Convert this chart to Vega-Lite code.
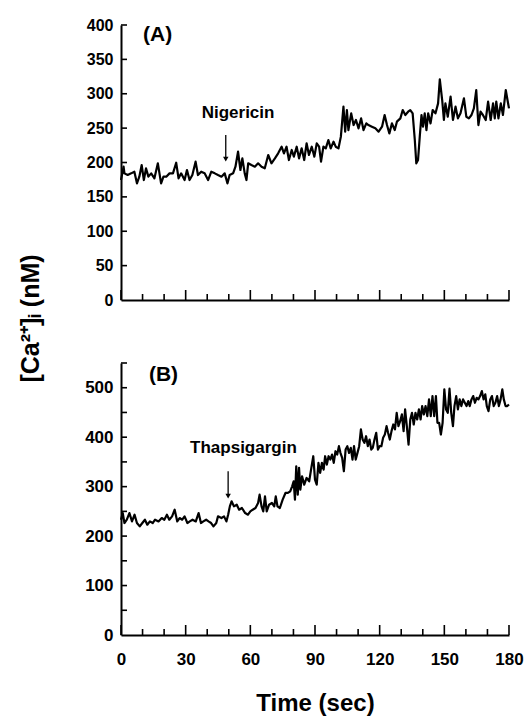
{
  "$schema": "https://vega.github.io/schema/vega-lite/v6.json",
  "padding": {"left": 18, "top": 17, "right": 10, "bottom": 5},
  "background": "white",
  "config": {
    "view": {"stroke": null},
    "font": "Liberation Sans",
    "axis": {
      "domainColor": "black", "domainWidth": 2, "ticks": false, "labelOverlap": false, "labelFlush": false,
      "grid": false, "labelFont": "Liberation Sans", "labelFontWeight": "bold", "labelColor": "black",
      "labelFontSize": 16, "titleFont": "Liberation Sans", "titleFontWeight": "bold", "titleColor": "black"
    },
    "tick": {"color": "black", "thickness": 1.6, "opacity": 1}
  },
  "datasets": {
    "A": [
      {"t":0,"v":174.5},{"t":1.2,"v":193.9},{"t":1.6,"v":184.2},{"t":3.1,"v":181.8},{"t":4.7,"v":184.2},{"t":6.2,"v":186.6},{"t":7.4,"v":169.7},{"t":8.5,"v":179.4},{"t":9.6,"v":196.3},{"t":10.6,"v":174.5},{"t":11.6,"v":191.5},{"t":12.7,"v":179.4},{"t":14.0,"v":184.2},{"t":15.5,"v":177.0},{"t":17.1,"v":198.8},{"t":18.6,"v":169.7},{"t":19.7,"v":179.4},{"t":21.0,"v":179.4},{"t":22.5,"v":184.2},{"t":24.1,"v":184.2},{"t":25.6,"v":199.7},{"t":26.7,"v":177.0},{"t":27.9,"v":184.2},{"t":29.5,"v":174.5},{"t":30.6,"v":189.1},{"t":31.8,"v":174.5},{"t":33.1,"v":181.8},{"t":34.6,"v":201.2},{"t":35.7,"v":181.8},{"t":37.2,"v":186.6},{"t":38.8,"v":184.2},{"t":40.4,"v":174.5},{"t":41.9,"v":186.6},{"t":43.5,"v":184.2},{"t":45.0,"v":181.8},{"t":46.6,"v":179.4},{"t":48.1,"v":184.2},{"t":49.4,"v":169.7},{"t":50.4,"v":181.8},{"t":52.0,"v":184.2},{"t":53.1,"v":193.9},{"t":54.3,"v":215.7},{"t":55.4,"v":189.1},{"t":56.3,"v":206.0},{"t":57.4,"v":184.2},{"t":58.2,"v":174.5},{"t":59.0,"v":198.8},{"t":60.5,"v":196.3},{"t":62.1,"v":193.9},{"t":63.6,"v":198.8},{"t":65.2,"v":193.9},{"t":66.7,"v":191.5},{"t":68.3,"v":210.9},{"t":69.8,"v":198.8},{"t":71.4,"v":206.0},{"t":72.9,"v":213.3},{"t":74.5,"v":223.0},{"t":75.6,"v":213.3},{"t":76.8,"v":223.0},{"t":77.9,"v":203.6},{"t":79.2,"v":218.2},{"t":80.2,"v":208.5},{"t":81.5,"v":223.0},{"t":82.6,"v":206.0},{"t":83.8,"v":220.6},{"t":85.0,"v":203.6},{"t":86.1,"v":227.9},{"t":87.2,"v":210.9},{"t":88.5,"v":223.0},{"t":89.7,"v":208.5},{"t":90.8,"v":227.9},{"t":91.9,"v":223.0},{"t":92.8,"v":201.2},{"t":93.9,"v":223.0},{"t":95.0,"v":220.6},{"t":96.2,"v":232.7},{"t":97.3,"v":220.6},{"t":98.6,"v":230.3},{"t":99.6,"v":223.0},{"t":100.9,"v":220.6},{"t":102.0,"v":237.6},{"t":103.2,"v":281.2},{"t":104.0,"v":244.8},{"t":104.8,"v":276.3},{"t":105.5,"v":247.2},{"t":106.8,"v":271.5},{"t":107.9,"v":254.5},{"t":109.0,"v":261.8},{"t":110.2,"v":249.7},{"t":111.4,"v":264.2},{"t":112.5,"v":247.2},{"t":113.8,"v":256.9},{"t":114.8,"v":254.5},{"t":116.4,"v":252.1},{"t":118.0,"v":249.7},{"t":119.5,"v":244.8},{"t":121.1,"v":252.1},{"t":122.3,"v":269.1},{"t":123.4,"v":254.5},{"t":124.5,"v":242.4},{"t":125.7,"v":256.9},{"t":127.0,"v":247.2},{"t":128.0,"v":259.4},{"t":129.6,"v":264.2},{"t":130.7,"v":276.3},{"t":131.9,"v":269.1},{"t":133.2,"v":273.9},{"t":134.2,"v":276.3},{"t":135.3,"v":271.5},{"t":136.3,"v":232.7},{"t":137.0,"v":198.8},{"t":137.8,"v":203.6},{"t":138.6,"v":237.6},{"t":139.4,"v":269.1},{"t":140.1,"v":252.1},{"t":140.9,"v":271.5},{"t":141.7,"v":247.2},{"t":142.5,"v":271.5},{"t":143.6,"v":256.9},{"t":144.6,"v":276.3},{"t":145.9,"v":271.5},{"t":147.1,"v":286.0},{"t":147.9,"v":320.9},{"t":149.0,"v":290.9},{"t":149.8,"v":261.8},{"t":150.5,"v":286.0},{"t":151.6,"v":266.6},{"t":152.9,"v":295.7},{"t":154.0,"v":261.8},{"t":155.2,"v":281.2},{"t":156.3,"v":264.2},{"t":157.5,"v":271.5},{"t":159.1,"v":293.3},{"t":160.2,"v":266.6},{"t":161.4,"v":264.2},{"t":162.6,"v":269.1},{"t":163.7,"v":278.8},{"t":164.8,"v":305.4},{"t":165.8,"v":254.5},{"t":166.8,"v":273.9},{"t":167.9,"v":269.1},{"t":169.2,"v":261.8},{"t":170.3,"v":288.5},{"t":171.5,"v":261.8},{"t":172.6,"v":286.0},{"t":173.4,"v":264.2},{"t":174.1,"v":288.5},{"t":175.1,"v":264.2},{"t":176.2,"v":286.0},{"t":177.2,"v":269.1},{"t":178.5,"v":305.4},{"t":179.3,"v":290.9},{"t":180.0,"v":278.8}
    ],
    "B": [
      {"t":0,"v":233.1},{"t":0.8,"v":246.6},{"t":1.6,"v":226.4},{"t":2.7,"v":233.1},{"t":3.9,"v":246.6},{"t":5.1,"v":229.7},{"t":6.3,"v":243.3},{"t":7.4,"v":226.4},{"t":8.7,"v":219.6},{"t":9.9,"v":226.4},{"t":11.1,"v":233.1},{"t":12.2,"v":223.0},{"t":13.4,"v":229.7},{"t":14.7,"v":226.4},{"t":15.8,"v":233.1},{"t":17.4,"v":229.7},{"t":18.9,"v":236.5},{"t":20.1,"v":233.1},{"t":21.3,"v":243.3},{"t":22.4,"v":233.1},{"t":23.7,"v":239.9},{"t":24.9,"v":253.4},{"t":26.1,"v":229.7},{"t":27.2,"v":236.5},{"t":28.4,"v":233.1},{"t":29.5,"v":239.9},{"t":30.8,"v":226.4},{"t":31.9,"v":229.7},{"t":33.2,"v":233.1},{"t":34.7,"v":229.7},{"t":36.0,"v":246.6},{"t":37.1,"v":226.4},{"t":38.2,"v":229.7},{"t":39.5,"v":233.1},{"t":40.6,"v":229.7},{"t":41.8,"v":226.4},{"t":42.9,"v":219.6},{"t":44.2,"v":226.4},{"t":45.0,"v":239.9},{"t":46.6,"v":236.5},{"t":47.8,"v":239.9},{"t":48.9,"v":229.7},{"t":49.7,"v":243.3},{"t":50.5,"v":260.1},{"t":51.3,"v":270.3},{"t":52.4,"v":260.1},{"t":53.7,"v":263.5},{"t":54.8,"v":253.4},{"t":56.1,"v":256.8},{"t":57.6,"v":246.6},{"t":58.9,"v":243.3},{"t":60.0,"v":250.0},{"t":61.1,"v":253.4},{"t":62.4,"v":256.8},{"t":63.6,"v":266.9},{"t":64.3,"v":283.8},{"t":65.2,"v":260.1},{"t":66.0,"v":250.0},{"t":66.8,"v":280.4},{"t":67.6,"v":250.0},{"t":68.7,"v":263.5},{"t":70.0,"v":266.9},{"t":71.1,"v":260.1},{"t":71.8,"v":280.4},{"t":72.6,"v":260.1},{"t":73.7,"v":256.8},{"t":75.0,"v":273.7},{"t":76.3,"v":287.2},{"t":77.4,"v":287.2},{"t":78.5,"v":290.6},{"t":79.4,"v":300.7},{"t":80.1,"v":310.8},{"t":80.7,"v":273.7},{"t":81.3,"v":341.2},{"t":82.0,"v":283.8},{"t":82.6,"v":337.9},{"t":83.2,"v":293.9},{"t":84.0,"v":321.0},{"t":85.0,"v":304.1},{"t":86.1,"v":317.6},{"t":87.3,"v":310.8},{"t":88.3,"v":337.9},{"t":89.2,"v":361.5},{"t":90.0,"v":314.2},{"t":90.8,"v":304.1},{"t":91.6,"v":348.0},{"t":92.4,"v":327.7},{"t":93.2,"v":348.0},{"t":94.0,"v":334.5},{"t":94.7,"v":361.5},{"t":95.5,"v":344.6},{"t":96.3,"v":361.5},{"t":97.1,"v":354.7},{"t":97.9,"v":364.9},{"t":98.7,"v":348.0},{"t":99.5,"v":371.6},{"t":100.3,"v":364.9},{"t":101.1,"v":381.8},{"t":101.8,"v":368.3},{"t":102.6,"v":358.1},{"t":103.4,"v":331.1},{"t":104.2,"v":375.0},{"t":105.0,"v":381.8},{"t":105.8,"v":368.3},{"t":106.6,"v":378.4},{"t":107.4,"v":354.7},{"t":108.1,"v":381.8},{"t":108.9,"v":354.7},{"t":109.7,"v":368.3},{"t":110.5,"v":381.8},{"t":111.3,"v":415.6},{"t":112.1,"v":395.3},{"t":112.9,"v":388.5},{"t":113.7,"v":402.0},{"t":114.5,"v":381.8},{"t":115.3,"v":395.3},{"t":116.1,"v":375.0},{"t":116.8,"v":378.4},{"t":117.6,"v":395.3},{"t":118.4,"v":408.8},{"t":119.2,"v":375.0},{"t":120.0,"v":381.8},{"t":120.8,"v":381.8},{"t":121.6,"v":398.7},{"t":122.4,"v":405.4},{"t":123.2,"v":422.3},{"t":123.9,"v":408.8},{"t":124.7,"v":395.3},{"t":125.5,"v":412.2},{"t":126.3,"v":425.7},{"t":127.1,"v":415.6},{"t":127.9,"v":449.3},{"t":128.7,"v":422.3},{"t":129.5,"v":432.4},{"t":130.3,"v":446.0},{"t":131.1,"v":412.2},{"t":131.8,"v":456.1},{"t":132.6,"v":422.3},{"t":133.4,"v":385.1},{"t":134.2,"v":435.8},{"t":135.0,"v":449.3},{"t":135.8,"v":425.7},{"t":136.6,"v":449.3},{"t":137.4,"v":435.8},{"t":138.2,"v":456.1},{"t":139.0,"v":435.8},{"t":139.7,"v":462.9},{"t":140.5,"v":446.0},{"t":141.3,"v":462.9},{"t":142.1,"v":442.6},{"t":142.9,"v":476.4},{"t":143.7,"v":442.6},{"t":144.5,"v":483.1},{"t":145.3,"v":442.6},{"t":146.1,"v":483.1},{"t":146.8,"v":429.1},{"t":147.6,"v":429.1},{"t":148.4,"v":405.4},{"t":149.2,"v":429.1},{"t":150.0,"v":496.6},{"t":150.8,"v":456.1},{"t":151.6,"v":449.3},{"t":152.4,"v":498.0},{"t":153.2,"v":449.3},{"t":154.0,"v":422.3},{"t":154.7,"v":462.9},{"t":155.5,"v":483.1},{"t":156.3,"v":456.1},{"t":157.1,"v":476.4},{"t":157.9,"v":462.9},{"t":158.7,"v":476.4},{"t":159.5,"v":469.6},{"t":160.3,"v":462.9},{"t":161.1,"v":473.0},{"t":161.8,"v":462.9},{"t":162.6,"v":476.4},{"t":163.4,"v":483.1},{"t":164.2,"v":469.6},{"t":165.0,"v":479.7},{"t":165.8,"v":476.4},{"t":166.6,"v":483.1},{"t":167.4,"v":493.3},{"t":168.2,"v":476.4},{"t":169.0,"v":486.5},{"t":169.7,"v":462.9},{"t":170.5,"v":452.7},{"t":171.3,"v":476.4},{"t":172.1,"v":483.1},{"t":172.9,"v":462.9},{"t":173.7,"v":469.6},{"t":174.5,"v":483.1},{"t":175.3,"v":462.9},{"t":176.1,"v":476.4},{"t":176.9,"v":496.6},{"t":177.6,"v":476.4},{"t":178.4,"v":462.9},{"t":179.2,"v":462.9},{"t":180.0,"v":466.2}
    ],
    "xmajor": [{"t":0,"v":0},{"t":30,"v":0},{"t":60,"v":0},{"t":90,"v":0},{"t":120,"v":0},{"t":150,"v":0},{"t":180,"v":0}],
    "xminor": [{"t":10,"v":0},{"t":20,"v":0},{"t":40,"v":0},{"t":50,"v":0},{"t":70,"v":0},{"t":80,"v":0},{"t":100,"v":0},{"t":110,"v":0},{"t":130,"v":0},{"t":140,"v":0},{"t":160,"v":0},{"t":170,"v":0}],
    "yA": [{"t":0,"v":50},{"t":0,"v":100},{"t":0,"v":150},{"t":0,"v":200},{"t":0,"v":250},{"t":0,"v":300},{"t":0,"v":350},{"t":0,"v":400}],
    "yB": [{"t":0,"v":50},{"t":0,"v":100},{"t":0,"v":150},{"t":0,"v":200},{"t":0,"v":250},{"t":0,"v":300},{"t":0,"v":350},{"t":0,"v":400},{"t":0,"v":450},{"t":0,"v":500},{"t":0,"v":550}]
  },
  "spacing": 63,
  "bounds": "flush",
  "vconcat": [
    {
      "width": 388, "height": 275,
      "encoding": {
        "x": {"field": "t", "type": "quantitative", "scale": {"domain": [0, 180], "nice": false},
              "axis": {"title": null, "labels": false, "ticks": false, "labelOverlap": false, "values": [0, 180]}},
        "y": {"field": "v", "type": "quantitative", "scale": {"domain": [0, 400], "nice": false},
              "axis": {"values": [0,50,100,150,200,250,300,350,400], "ticks": false, "labelOverlap": false, "labelPadding": 8,
                       "title": "[Ca²⁺]ᵢ (nM)", "titleFontSize": 25, "titleX": -78, "titleY": 293}}
      },
      "layer": [
        {"data": {"name": "A"}, "mark": {"type": "line", "color": "black", "strokeWidth": 2.2, "strokeJoin": "round"}},
        {"data": {"name": "xmajor"}, "mark": {"type": "tick", "orient": "vertical", "size": 10, "yOffset": -5}},
        {"data": {"name": "xminor"}, "mark": {"type": "tick", "orient": "vertical", "size": 6, "yOffset": -3}},
        {"data": {"name": "yA"}, "mark": {"type": "tick", "orient": "horizontal", "size": 6, "xOffset": 3}},
        {
          "data": {"values": [{"t": 48.6, "v": 240, "v2": 206}]},
          "mark": {"type": "rule", "color": "black", "strokeWidth": 1.3},
          "encoding": {"y2": {"field": "v2"}}
        },
        {
          "data": {"values": [{"t": 48.6, "v": 205}]},
          "mark": {"type": "point", "shape": "triangle-down", "filled": true, "color": "black", "opacity": 1, "size": 30}
        },
        {
          "data": {"values": [{"t": 54.3, "v": 271.5, "label": "Nigericin"}, {"t": 17, "v": 386, "label": "(A)"}]},
          "mark": {"type": "text", "color": "black", "fontWeight": "bold", "font": "Liberation Sans"},
          "encoding": {"text": {"field": "label"},
                       "size": {"condition": {"test": "datum.label === '(A)'", "value": 21}, "value": 17}}
        }
      ]
    },
    {
      "width": 388, "height": 272,
      "encoding": {
        "x": {"field": "t", "type": "quantitative", "scale": {"domain": [0, 180], "nice": false},
              "axis": {"title": "Time (sec)", "titleFontSize": 24, "titlePadding": 24, "values": [0,30,60,90,120,150,180],
                       "ticks": false, "labelOverlap": false, "labelPadding": 16, "labelFontSize": 17}},
        "y": {"field": "v", "type": "quantitative", "scale": {"domain": [0, 550], "nice": false},
              "axis": {"title": null, "values": [0,100,200,300,400,500], "ticks": false, "labelOverlap": false, "labelPadding": 8, "labelFontSize": 17}}
      },
      "layer": [
        {"data": {"name": "B"}, "mark": {"type": "line", "color": "black", "strokeWidth": 2.2, "strokeJoin": "round"}},
        {"data": {"name": "xmajor"}, "mark": {"type": "tick", "orient": "vertical", "size": 10, "yOffset": -5}},
        {"data": {"name": "xminor"}, "mark": {"type": "tick", "orient": "vertical", "size": 6, "yOffset": -3}},
        {"data": {"name": "yB"}, "mark": {"type": "tick", "orient": "horizontal", "size": 6, "xOffset": 3}},
        {
          "data": {"values": [{"t": 49.7, "v": 331, "v2": 282}]},
          "mark": {"type": "rule", "color": "black", "strokeWidth": 1.3},
          "encoding": {"y2": {"field": "v2"}}
        },
        {
          "data": {"values": [{"t": 49.7, "v": 281}]},
          "mark": {"type": "point", "shape": "triangle-down", "filled": true, "color": "black", "opacity": 1, "size": 30}
        },
        {
          "data": {"values": [{"t": 56.8, "v": 378, "label": "Thapsigargin"}, {"t": 19.7, "v": 526, "label": "(B)"}]},
          "mark": {"type": "text", "color": "black", "fontWeight": "bold", "font": "Liberation Sans"},
          "encoding": {"text": {"field": "label"},
                       "size": {"condition": {"test": "datum.label === '(B)'", "value": 21}, "value": 17}}
        }
      ]
    }
  ]
}
